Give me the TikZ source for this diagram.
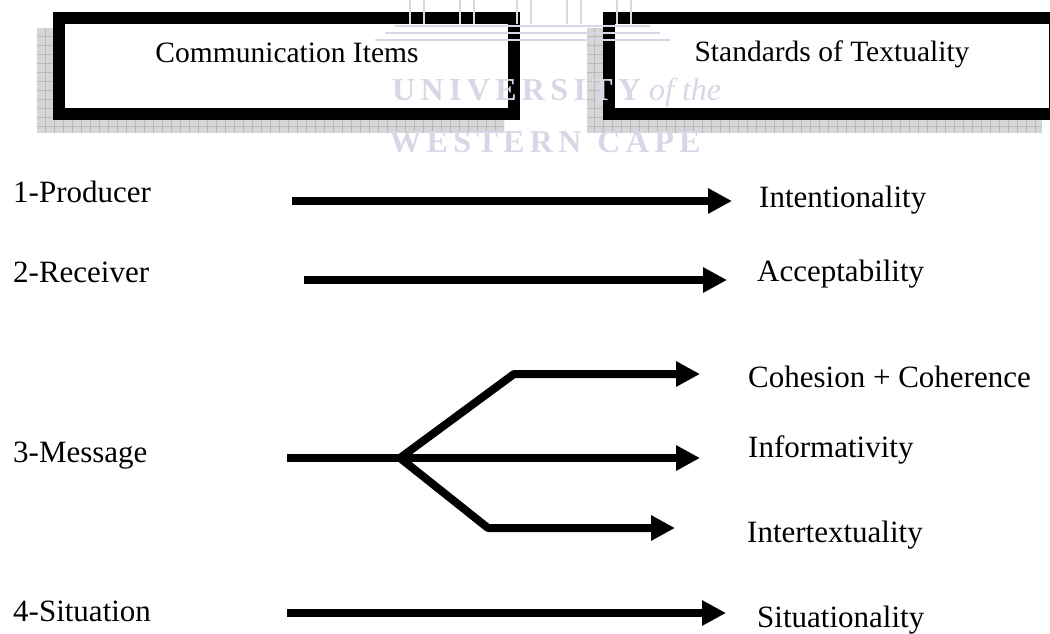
\documentclass[tikz,border=0pt]{standalone}
\usepackage{fontspec}
\setmainfont{Liberation Serif}
\usetikzlibrary{arrows.meta}

\definecolor{stampblue}{RGB}{214,216,232}

\tikzset{
  label/.style={inner sep=0pt, font=\fontsize{31}{37}\selectfont},
  headlabel/.style={inner sep=0pt, font=\fontsize{29.5}{35}\selectfont},
  frame/.style={draw=black, line width=12pt, fill=white},
  shadowbox/.style={fill=gray!32},
  shadowgrid/.style={draw=gray!55, line width=0.6pt},
  arr/.style={line width=8pt, -{Triangle[length=24pt,width=24pt]}},
  stem/.style={line width=8pt},
  stampfont/.style={text=stampblue, font=\fontsize{32}{38}\bfseries\selectfont, inner sep=0pt},
  stampline/.style={draw=stampblue, line width=1.5pt}
}

\begin{document}
\begin{tikzpicture}[x=1pt, y=-1pt]
  \useasboundingbox (0,0) rectangle (1050,633);
  \clip (0,0) rectangle (1050,633);

  % shaded drop shadows behind the two heading boxes
  \foreach \xa/\xb in {37/504, 587/1042}{
    \fill[shadowbox] (\xa,28) rectangle (\xb,133);
    \begin{scope}
      \clip (\xa,28) rectangle (\xb,133);
      \draw[shadowgrid, step=9pt] (\xa,28) grid (\xb,133);
    \end{scope}
  }

  % heading boxes
  \draw[frame] (59,18) rectangle (514,114);
  \draw[frame] (609,18) rectangle (1055,114);
  \node[headlabel, anchor=base] (h1) at (287,62) {Communication Items};
  \node[headlabel, anchor=base] (h2) at (832,61) {Standards of Textuality};

  % faint stamp across the headings: columns, steps and lettering
  \foreach \cx in {410,460,517,567,617}{
    \draw[stampline] (\cx,0) -- (\cx,24);
    \draw[stampline] (\cx+14,0) -- (\cx+14,24);
  }
  \draw[stampline] (395,26) -- (650,26);
  \draw[stampline] (385,33) -- (660,33);
  \draw[stampline] (375,40) -- (670,40);
  \node[stampfont, anchor=base west] (wm1) at (392,100) {U\,N\,I\,V\,E\,R\,S\,I\,T\,Y \textit{\mdseries of the}};
  \node[stampfont, anchor=base] (wm2) at (545,152) {W\,E\,S\,T\,E\,R\,N\ \ C\,A\,P\,E};

  % communication items
  \node[label, anchor=base west] (c1) at (13,202) {1-Producer};
  \node[label, anchor=base west] (c2) at (13,282) {2-Receiver};
  \node[label, anchor=base west] (c3) at (13,462) {3-Message};
  \node[label, anchor=base west] (c4) at (13,621) {4-Situation};

  % standards of textuality
  \node[label, anchor=base west] (s1) at (759,207) {Intentionality};
  \node[label, anchor=base west] (s2) at (757,281) {Acceptability};
  \node[label, anchor=base west] (s3a) at (748,387) {Cohesion + Coherence};
  \node[label, anchor=base west] (s3b) at (748,457) {Informativity};
  \node[label, anchor=base west] (s3c) at (747,542) {Intertextuality};
  \node[label, anchor=base west] (s4) at (757,627) {Situationality};

  % arrow end points
  \coordinate (a1) at (292,201);  \coordinate (b1) at (732,201);
  \coordinate (a2) at (304,280);  \coordinate (b2) at (727,280);
  \coordinate (a3) at (287,458);  \coordinate (fork) at (400,458);
  \coordinate (up) at (514,374);  \coordinate (bu) at (700,374);
  \coordinate (bm) at (700,458);
  \coordinate (dn) at (488,528);  \coordinate (bd) at (675,528);
  \coordinate (a4) at (287,613);  \coordinate (b4) at (726,613);

  % connectors
  \draw[arr] (a1) -- (b1);
  \draw[arr] (a2) -- (b2);
  \draw[stem] (a3) -- (fork);
  \draw[arr, line join=round] (fork) -- (up) -- (bu);
  \draw[arr] (fork) -- (bm);
  \draw[arr, line join=round] (fork) -- (dn) -- (bd);
  \draw[arr] (a4) -- (b4);
\end{tikzpicture}
\end{document}
